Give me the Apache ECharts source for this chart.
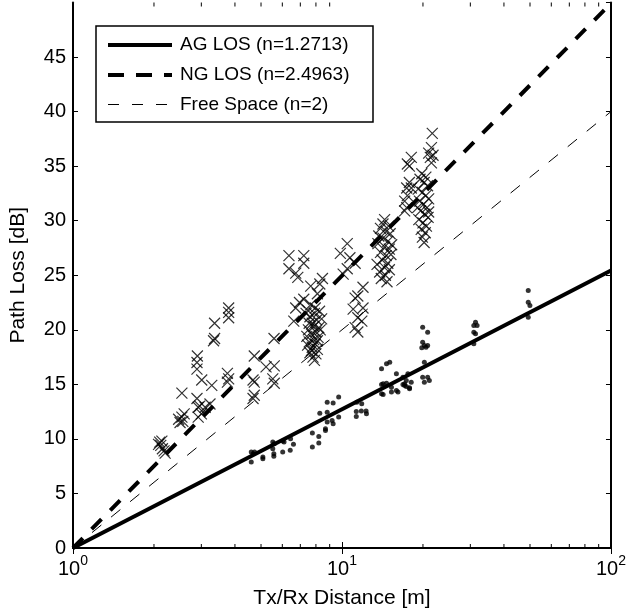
<!DOCTYPE html>
<html>
<head>
<meta charset="utf-8">
<script src="https://cdn.jsdelivr.net/npm/echarts@6/dist/echarts.min.js"></script>
<style>html,body{margin:0;padding:0;background:#fff}#c{width:629px;height:616px}</style>
</head>
<body>
<div id="c"></div>
<script>
// ---- data ----
const seriesNames = ['AG LOS (n=1.2713)', 'NG LOS (n=2.4963)', 'Free Space (n=2)'];
const lineDist = [1, 100];
const agFitLoss = [0, 25.43];
const ngFitLoss = [0, 49.93];
const fsLoss = [0, 40];
const minorTicks = [2,3,4,5,6,7,8,9,20,30,40,50,60,70,80,90];

// AG LOS measurements [distance m, path loss dB]
const agPoints = [
  [4.60,7.88],[4.67,8.64],[4.73,8.79],[5.08,8.33],[5.08,8.19],[5.53,9.71],[5.60,9.56],[5.58,8.64],
  [5.58,8.40],[5.53,9.10],[6.02,8.79],[6.09,9.71],[6.42,8.95],[6.44,10.02],[6.60,9.50],[4.60,8.79],[6.02,9.80],
  [7.76,10.53],[7.76,9.25],[8.20,10.23],[8.20,9.62],[8.68,10.93],[8.68,10.78],[8.81,12.45],[8.81,11.54],
  [9.19,11.69],[9.27,11.39],[9.72,12.0],[9.72,13.83],[9.27,13.28],[8.81,13.37],[8.27,12.36],
  [11.35,13.37],[11.84,13.22],[11.30,12.52],[11.80,12.55],[12.29,12.55],[12.33,12.31],[11.30,12.06],
  [14.03,14.99],[14.22,14.08],[14.64,15.11],[15.27,14.74],[15.93,14.44],[16.85,14.99],[17.34,14.81],
  [17.83,14.69],[18.09,15.20],[16.85,15.66],[17.09,14.90],[17.83,14.60],[17.34,15.36],[15.93,15.97],
  [17.58,15.97],[16.15,14.29],[17.09,15.05],[14.22,15.05],[14.03,14.14],[15.27,14.29],
  [14.64,16.89],[15.05,17.03],[14.03,16.43],
  [19.95,15.66],[20.82,15.66],[20.24,15.20],[21.12,15.36],
  [19.95,20.24],[20.82,19.78],[19.95,18.86],[20.24,18.56],[20.53,18.41],[20.24,17.03],[19.80,18.35],[20.82,18.56],
  [31.36,20.70],[30.91,20.39],[31.78,20.39],[30.91,19.78],[31.36,19.63],[30.91,18.72],
  [49.25,23.60],[49.25,22.53],[49.95,22.23],[49.25,21.15]
];

// NG LOS measurements [distance m, path loss dB]
const ngPoints = [
  [2.08,9.5],[2.10,9.7],[2.12,9.4],[2.14,9.8],[2.15,9.1],[2.18,8.9],[2.20,8.7],
  [2.47,11.8],[2.50,11.5],[2.54,12.0],[2.56,11.6],[2.59,12.3],[2.54,14.2],
  [2.89,13.7],[2.92,12.9],[2.96,13.0],[2.92,12.0],[3.00,12.3],[2.90,17.6],[2.89,17.0],[2.89,16.4],
  [3.01,15.4],[3.28,14.9],[3.23,13.2],[3.10,12.9],
  [3.36,20.6],[3.36,19.2],[3.33,19.0],
  [3.79,22.0],[3.79,21.6],[3.79,21.1],[3.75,16.0],[3.79,15.5],[3.75,15.2],
  [4.72,17.6],[4.72,15.2],[4.72,14.0],[4.67,13.7],[4.67,15.4],
  [5.22,16.6],[5.60,16.7],[5.53,15.5],[5.60,15.1],[5.59,19.2],
  [6.35,26.8],[7.21,26.8],[6.35,25.6],[6.73,25.2],[6.85,24.8],[7.21,26.1],
  [8.46,24.7],[7.65,24.0],[8.27,24.2],[8.10,23.3],[7.21,22.8],[6.73,22.0],[6.62,20.8],[6.95,22.5],[7.35,21.5],
  [7.45,21.8],[7.60,21.2],[7.75,20.6],[7.90,21.5],[8.05,20.9],[8.20,20.2],[7.50,20.0],[7.70,19.6],
  [7.85,19.1],[8.00,19.8],[8.15,19.3],[8.30,20.0],[7.55,18.9],[7.75,18.4],[7.95,18.7],[8.10,18.2],
  [7.60,17.9],[7.80,17.5],[7.40,19.4],[8.40,21.0],[7.65,22.3],[7.95,22.0],[8.25,21.7],[7.85,20.3],
  [7.55,20.6],[8.10,19.0],[7.70,18.1],[7.45,18.6],[8.00,17.8],[7.90,17.2],
  [10.46,27.9],[9.86,27.0],[10.70,26.6],[10.46,25.6],[11.19,26.1],[10.10,25.1],
  [11.97,23.9],[11.45,23.1],[11.19,22.9],[11.97,22.0],[11.00,21.9],[11.45,21.1],[11.85,20.8],[11.19,20.2],[11.45,19.8],
  [14.4,30.1],[13.9,29.3],[14.6,29.0],[15.1,28.8],[14.2,28.4],[14.8,28.1],[13.6,27.9],[14.4,27.6],
  [15.0,27.4],[13.9,27.1],[14.6,26.8],[15.2,26.9],[14.1,26.4],[14.8,26.1],[13.5,26.0],[14.4,25.7],
  [15.0,25.5],[13.8,25.3],[14.5,25.0],[14.0,24.7],[14.7,24.4],[15.3,27.8],[13.7,28.6],[14.9,29.5],[14.2,29.7],
  [18.1,35.8],[17.5,35.2],[17.8,35.0],[17.8,33.5],[17.4,33.0],[18.1,33.0],[17.5,32.3],[17.1,31.8],[17.4,31.2],[17.1,30.9],
  [21.66,38.0],[21.5,36.7],[21.0,36.2],[21.3,35.8],[21.5,35.3],[21.8,36.0],
  [19.5,33.8],[20.2,33.5],[20.8,33.2],[19.2,32.9],[19.9,32.6],[20.5,32.3],[21.0,32.0],[19.4,31.8],
  [20.1,31.5],[20.7,31.2],[19.6,30.9],[20.3,30.6],[20.9,30.3],[19.3,30.1],[20.0,29.8],[20.6,29.5],
  [19.7,29.2],[20.4,28.9],[19.9,28.5],[20.2,28.0],[19.1,31.2],[21.0,30.8],[20.5,34.0],[19.8,34.3]
];

// ---- chart ----
const FONT = 'Liberation Sans';
const TICK_FS = 20, TITLE_FS = 21, LEG_FS = 19;
const chart = echarts.init(document.getElementById('c'), null, {renderer: 'canvas'});
const pair = (xs, ys) => xs.map((x, i) => [x, ys[i]]);

const lineStyles = [
  {width: 4, dash: null},
  {width: 4, dash: [14, 12.5]},
  {width: 1, dash: [12, 12.5]}
];
const legendDash = [null, [16, 12], [11, 13]];

const xLabel = {
  show: true, margin: 6,
  formatter: v => '{b|10}{s|' + Math.round(Math.log10(v)) + '}',
  rich: {
    b: {fontSize: TICK_FS, fontFamily: FONT, color: '#000', verticalAlign: 'bottom'},
    s: {fontSize: 14, fontFamily: FONT, color: '#000', verticalAlign: 'bottom', padding: [0, 0, 11, 0]}
  }
};

// legend drawn as graphic (box + line samples + texts)
const legX = 96, legY = 26, legW = 277, legH = 96, rowY = [45, 75, 104.5];
const legendGraphic = [{type: 'rect', z: 100, shape: {x: legX, y: legY, width: legW, height: legH},
  style: {fill: '#fff', stroke: '#000', lineWidth: 1.5}}];
seriesNames.forEach((nm, i) => {
  legendGraphic.push({type: 'line', z: 101,
    shape: {x1: 108, y1: rowY[i], x2: 172, y2: rowY[i]},
    style: {stroke: '#000', lineWidth: lineStyles[i].width, lineDash: legendDash[i] || null}});
  legendGraphic.push({type: 'text', z: 101, x: 180, y: Math.round(rowY[i]),
    style: {text: nm, fill: '#000', fontSize: LEG_FS, fontFamily: FONT,
            verticalAlign: 'middle', textVerticalAlign: 'middle', align: 'left'}});
});

chart.setOption({
  animation: false,
  backgroundColor: '#fff',
  grid: {left: 70, right: 15.5, top: 2.5, bottom: 68, containLabel: false},
  graphic: legendGraphic,
  xAxis: [
    {type: 'log', logBase: 10, min: 1, max: 100, position: 'bottom',
     name: 'Tx/Rx Distance [m]', nameLocation: 'middle', nameGap: 40,
     nameTextStyle: {fontSize: TITLE_FS, fontFamily: FONT, color: '#000'},
     axisLine: {lineStyle: {color: '#000', width: 2}},
     axisTick: {inside: true, length: 6, lineStyle: {color: '#000', width: 1}},
     axisLabel: xLabel, splitLine: {show: false}, minorTick: {show: false}},
    {type: 'log', logBase: 10, min: 1, max: 100, position: 'top',
     axisLine: {lineStyle: {color: '#000', width: 2}},
     axisTick: {inside: true, length: 6, lineStyle: {color: '#000', width: 1}},
     axisLabel: {show: false}, splitLine: {show: false}}
  ],
  yAxis: [
    {type: 'value', min: 0, max: 50, interval: 5, position: 'left',
     name: 'Path Loss [dB]', nameLocation: 'middle', nameGap: 44,
     nameTextStyle: {fontSize: TITLE_FS, fontFamily: FONT, color: '#000'},
     axisLine: {show: true, lineStyle: {color: '#000', width: 2}},
     axisTick: {show: true, inside: true, length: 5, lineStyle: {color: '#000', width: 1}},
     axisLabel: {fontSize: TICK_FS, fontFamily: FONT, color: '#000', margin: 7, showMaxLabel: false},
     splitLine: {show: false}},
    {type: 'value', min: 0, max: 50, interval: 5, position: 'right',
     axisLine: {show: true, lineStyle: {color: '#000', width: 2}},
     axisTick: {show: true, inside: true, length: 5, lineStyle: {color: '#000', width: 1}},
     axisLabel: {show: false}, splitLine: {show: false}}
  ],
  series: [
    {type: 'custom', name: 'minor', silent: true, z: 5,
     data: minorTicks.map(d => [d]),
     encode: {x: 0},
     renderItem: (params, api) => {
       const b = api.coord([api.value(0), 0]);
       const t = api.coord([api.value(0), 50]);
       return {type: 'group', children: [
         {type: 'line', shape: {x1: b[0], y1: b[1], x2: b[0], y2: b[1] - 4}, style: {stroke: '#000', lineWidth: 1}},
         {type: 'line', shape: {x1: t[0], y1: t[1], x2: t[0], y2: t[1] + 4}, style: {stroke: '#000', lineWidth: 1}}
       ]};
     }},
    {type: 'scatter', name: 'AG data', data: agPoints, symbol: 'circle', symbolSize: 5,
     itemStyle: {color: '#000'}, silent: true, z: 2},
    {type: 'scatter', name: 'NG data', data: ngPoints, symbol: 'path://M0,0L10,10M10,0L0,10',
     symbolSize: 11, itemStyle: {color: 'none', borderColor: '#000', borderWidth: 1.2}, silent: true, z: 2},
    {type: 'line', name: seriesNames[0], data: pair(lineDist, agFitLoss), symbol: 'none', z: 3, silent: true,
     lineStyle: {color: '#000', width: lineStyles[0].width, type: 'solid'}},
    {type: 'line', name: seriesNames[1], data: pair(lineDist, ngFitLoss), symbol: 'none', z: 3, silent: true,
     lineStyle: {color: '#000', width: lineStyles[1].width, type: lineStyles[1].dash}},
    {type: 'line', name: seriesNames[2], data: pair(lineDist, fsLoss), symbol: 'none', z: 3, silent: true,
     lineStyle: {color: '#000', width: lineStyles[2].width, type: lineStyles[2].dash}}
  ]
});
</script>
</body>
</html>
